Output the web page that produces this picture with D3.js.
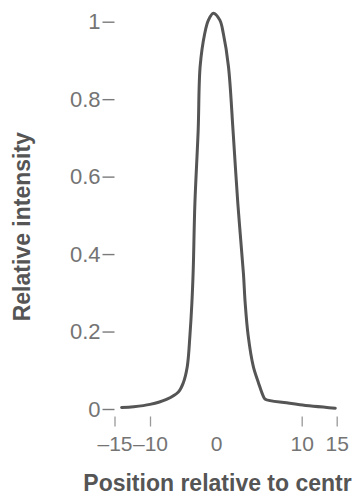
<!DOCTYPE html>
<html>
<head>
<meta charset="utf-8">
<script src="https://cdn.jsdelivr.net/npm/d3@7"></script>
<style>
  html, body { margin: 0; padding: 0; background: #fff; }
  svg { display: block; overflow: hidden; }
  text { font-family: "Liberation Sans", Arial, Helvetica, sans-serif; }
  .tick-label { fill: #747474; font-size: 21px; }
  .y-label { font-size: 22px; }
  .axis-title { fill: #555; font-size: 23px; font-weight: bold; }
</style>
</head>
<body>
<div id="chart"></div>
<script>
// profile
const positions = [-14.0, -12.3, -10.0, -7.5, -5.7, -4.95, -4.35, -3.95, -3.65, -3.45, -3.2, -2.7, -2.4, -1.7, -1.15, -0.4,
                   0.45, 0.85, 1.45, 2.0, 2.55, 3.2, 3.4, 3.75, 4.35, 4.95, 5.5, 5.75, 8.25, 9.8, 14.8];
const intensity = [0.004, 0.006, 0.012, 0.025, 0.044, 0.068, 0.11, 0.19, 0.275, 0.36, 0.53, 0.72, 0.885, 0.97, 1.004, 1.022,
                   1.004, 0.97, 0.885, 0.715, 0.53, 0.35, 0.275, 0.19, 0.11, 0.068, 0.034, 0.025, 0.016, 0.011, 0.002];

const xTicks = [-15, -10, 0, 10, 15];
const yTicks = [0, 0.2, 0.4, 0.6, 0.8, 1];
const xTitle = 'Position relative to centre (µm)';
const yTitle = 'Relative intensity';

const W = 352, H = 498;

// x ticks in the figure are not evenly spaced, so use a piecewise scale
const x = d3.scaleLinear()
  .domain([-15, -10, 0, 10, 15])
  .range([114.5, 150, 216, 301.7, 336.7]);

const y = d3.scaleLinear()
  .domain([0, 1])
  .range([409, 21.7]);

const svg = d3.select('#chart')
  .append('svg')
  .attr('width', W)
  .attr('height', H);

// y axis: labels followed by a short dash, no axis line
const yAxis = svg.append('g')
  .attr('transform', 'translate(114.5,0)')
  .call(d3.axisLeft(y).tickValues(yTicks).tickSize(12).tickPadding(2)
    .tickFormat(d => d === 0 ? '0' : d === 1 ? '1' : d3.format('.1f')(d)));
yAxis.select('.domain').remove();
yAxis.selectAll('.tick line').attr('stroke', '#7a7a7a').attr('stroke-width', 1.4);
yAxis.selectAll('.tick text')
  .attr('class', 'tick-label y-label')
  .attr('fill', null);
yAxis.attr('font-size', null).attr('font-family', null);

// x axis: short vertical ticks (none at 0), labels below
const xAxis = svg.append('g')
  .attr('transform', 'translate(0,416.5)')
  .call(d3.axisBottom(x).tickValues(xTicks).tickSize(10).tickPadding(10)
    .tickFormat(d => d < 0 ? '\u2013' + Math.abs(d) : String(d)));
xAxis.select('.domain').remove();
xAxis.selectAll('.tick line')
  .attr('stroke', '#999')
  .attr('stroke-width', 1.3)
  .attr('opacity', d => d === 0 ? 0 : 1);
xAxis.selectAll('.tick text')
  .attr('class', 'tick-label')
  .attr('fill', null)
  .attr('y', 20)
  .attr('dy', '0.71em');
xAxis.attr('font-size', null).attr('font-family', null);

// profile curve
const line = d3.line()
  .x((d, i) => x(positions[i]))
  .y(d => y(d))
  .curve(d3.curveCatmullRom.alpha(0.5));

svg.append('path')
  .datum(intensity)
  .attr('fill', 'none')
  .attr('stroke', '#555')
  .attr('stroke-width', 3)
  .attr('stroke-linejoin', 'round')
  .attr('stroke-linecap', 'round')
  .attr('d', line);

// axis titles (the x title runs off the right edge, as in the figure)
svg.append('text')
  .attr('class', 'axis-title')
  .attr('x', 83.3)
  .attr('y', 491)
  .text(xTitle);

svg.append('text')
  .attr('class', 'axis-title')
  .attr('transform', 'translate(29.5,226.7) rotate(-90)')
  .attr('text-anchor', 'middle')
  .text(yTitle);
</script>
</body>
</html>
